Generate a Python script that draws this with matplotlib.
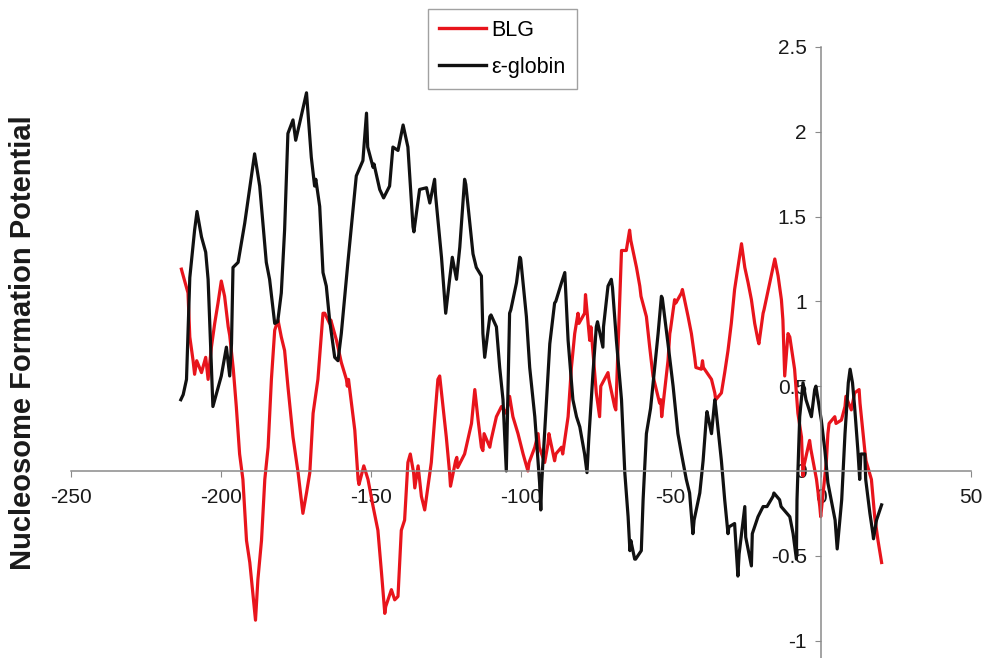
import matplotlib
matplotlib.use("Agg")
import matplotlib.pyplot as plt
import numpy as np

plt.rcParams['font.family'] = ['Liberation Sans', 'DejaVu Sans']
plt.rcParams['axes.unicode_minus'] = False

# BLG (red) trace
blg_x = [-213.1, -212.8, -210.9, -210.3, -209.2, -208.7, -208.0, -206.4, -205.0, -204.2,
         -203.1, -202.0, -200.9, -199.8, -198.7, -197.5, -197.0, -195.8, -194.8, -193.7,
         -192.6, -191.4, -190.3, -189.2, -188.4, -187.6, -186.4, -185.3, -184.2, -183.1,
         -182.0, -180.9, -179.8, -178.7, -177.6, -175.9, -174.2, -172.6, -171.4, -170.3,
         -169.2, -167.6, -165.9, -165.3, -163.7, -163.3, -161.4, -159.8, -158.1, -157.8,
         -157.4, -155.3, -154.2, -153.9, -152.3, -150.9, -149.2, -147.6, -146.4, -145.3,
         -145.0, -143.1, -142.0, -140.9, -139.8, -138.7, -137.6, -136.8, -135.7, -135.3,
         -134.2, -133.1, -132.0, -130.9, -129.8, -128.7, -127.6, -127.0, -125.9, -124.8,
         -123.7, -123.4, -121.7, -121.3, -121.0, -118.7, -116.4, -115.3, -114.2, -113.1,
         -112.6, -112.2, -110.3, -109.9, -108.1, -106.4, -104.8, -103.7, -102.6, -100.9,
         -99.2, -97.6, -97.2, -95.3, -94.2, -93.8, -92.0, -90.9, -90.6, -88.7,
         -88.3, -86.4, -86.0, -84.2, -83.1, -82.0, -80.9, -80.6, -78.7, -78.4,
         -77.0, -76.6, -74.8, -73.7, -73.3, -70.9, -70.6, -68.7, -68.3, -67.6,
         -67.0, -66.4, -64.8, -63.7, -63.3, -61.4, -60.3, -59.9, -58.1, -57.0,
         -55.9, -54.8, -53.7, -53.3, -53.0, -50.9, -50.3, -50.1, -48.7, -48.3,
         -46.4, -46.1, -44.2, -43.1, -42.0, -41.6, -39.8, -39.4, -39.1, -36.4,
         -35.3, -35.0, -33.1, -32.0, -30.9, -29.8, -28.7, -27.6, -26.4, -25.3,
         -24.2, -23.1, -22.0, -20.9, -20.6, -19.2, -18.9, -17.0, -15.3, -14.2,
         -13.1, -12.6, -12.0, -10.9, -10.3, -8.7, -7.6, -6.4, -5.9, -5.6,
         -3.7, -3.3, -1.4, -0.3, 0.0, 1.9, 2.4, 2.8, 4.7, 5.1,
         6.9, 8.1, 8.4, 10.2, 11.3, 12.8, 13.1, 14.7, 15.1, 16.9,
         18.0, 19.1, 20.3]
blg_y = [1.19, 1.17, 1.05, 0.79, 0.65, 0.57, 0.65, 0.58, 0.67, 0.54,
         0.73, 0.87, 0.99, 1.12, 1.03, 0.85, 0.80, 0.60, 0.38, 0.10,
         -0.05, -0.41, -0.54, -0.74, -0.88, -0.64, -0.41, -0.05, 0.14, 0.54,
         0.83, 0.89, 0.79, 0.71, 0.50, 0.20, -0.01, -0.25, -0.13, -0.01,
         0.34, 0.54, 0.93, 0.93, 0.87, 0.89, 0.77, 0.64, 0.54, 0.50,
         0.54, 0.24, -0.05, -0.08, 0.03, -0.05, -0.21, -0.35, -0.60, -0.84,
         -0.80, -0.70, -0.76, -0.74, -0.35, -0.29, 0.05, 0.10, -0.01, -0.10,
         0.03, -0.15, -0.23, -0.09, 0.05, 0.30, 0.54, 0.56, 0.38, 0.20,
         -0.01, -0.09, 0.06, 0.08, 0.02, 0.10, 0.28, 0.48, 0.30, 0.14,
         0.12, 0.22, 0.14, 0.18, 0.32, 0.38, 0.34, 0.44, 0.32, 0.22,
         0.10, 0.00, 0.05, 0.14, 0.22, 0.14, 0.05, 0.16, 0.22, 0.06,
         0.10, 0.14, 0.10, 0.32, 0.61, 0.81, 0.93, 0.87, 0.93, 1.04,
         0.77, 0.85, 0.46, 0.32, 0.50, 0.58, 0.54, 0.38, 0.36, 0.71,
         1.01, 1.30, 1.30, 1.42, 1.36, 1.20, 1.09, 1.03, 0.91, 0.73,
         0.56, 0.48, 0.40, 0.42, 0.32, 0.65, 0.81, 0.83, 1.01, 0.99,
         1.05, 1.07, 0.91, 0.81, 0.67, 0.61, 0.60, 0.65, 0.61, 0.54,
         0.46, 0.42, 0.46, 0.58, 0.71, 0.87, 1.07, 1.20, 1.34, 1.20,
         1.11, 1.01, 0.87, 0.77, 0.75, 0.93, 0.95, 1.11, 1.25, 1.15,
         1.01, 0.89, 0.56, 0.81, 0.79, 0.60, 0.34, 0.20, -0.03, 0.03,
         0.18, 0.13, -0.05, -0.21, -0.27, 0.06, 0.22, 0.28, 0.32, 0.28,
         0.30, 0.38, 0.44, 0.36, 0.46, 0.48, 0.40, 0.12, 0.06, -0.05,
         -0.27, -0.41, -0.54]

# epsilon-globin (black) trace
eps_x = [-213.3, -212.5, -211.4, -210.3, -208.7, -207.9, -206.4, -205.0, -204.2, -202.6,
         -201.5, -199.8, -198.1, -197.0, -196.4, -195.9, -194.2, -192.0, -188.7, -187.0,
         -184.8, -183.7, -182.0, -181.0, -179.8, -178.7, -177.6, -175.9, -175.0, -173.7,
         -171.4, -170.9, -169.8, -168.7, -168.3, -167.0, -165.9, -164.8, -163.7, -162.0,
         -160.9, -159.8, -157.6, -154.8, -152.6, -151.4, -151.0, -149.2, -148.9, -147.0,
         -145.7, -143.7, -142.6, -140.9, -139.2, -137.6, -135.9, -135.6, -133.7, -131.4,
         -130.3, -128.7, -128.4, -126.4, -125.0, -123.7, -122.8, -121.4, -120.3, -118.7,
         -118.3, -115.9, -114.8, -113.1, -112.6, -112.0, -110.3, -109.9, -108.1, -107.0,
         -105.9, -104.8, -103.7, -103.3, -101.4, -100.3, -100.0, -98.1, -97.0, -95.3,
         -93.7, -93.3, -93.0, -91.4, -90.3, -88.7, -88.3, -86.4, -85.3, -84.2,
         -82.6, -81.4, -80.3, -78.7, -77.9, -77.3, -75.9, -74.8, -74.4, -72.6,
         -72.4, -70.9, -69.8, -69.4, -68.1, -66.4, -65.3, -64.2, -63.6, -63.3,
         -62.0, -61.7, -59.8, -59.2, -58.1, -57.0, -56.7, -54.2, -53.1, -52.8,
         -50.9, -49.2, -47.6, -46.4, -44.8, -43.7, -42.6, -42.2, -40.3, -39.2,
         -38.1, -37.9, -36.4, -35.3, -35.0, -33.1, -32.0, -30.9, -30.6, -28.7,
         -27.6, -27.2, -25.3, -25.0, -23.1, -22.8, -20.9, -19.2, -17.9, -15.9,
         -15.6, -13.7, -13.2, -10.3, -9.2, -8.1, -7.9, -7.0, -5.9, -5.3,
         -4.9, -3.1, -2.0, -1.6, 0.2, 1.4, 2.4, 3.6, 4.8, 5.5,
         7.0, 8.1, 9.2, 9.8, 10.6, 11.3, 12.4, 13.0, 13.4, 14.7,
         15.0, 16.4, 17.4, 17.6, 18.6, 20.3]
eps_y = [0.42, 0.45, 0.54, 1.14, 1.42, 1.53, 1.38, 1.29, 1.13, 0.38,
         0.45, 0.56, 0.73, 0.56, 0.75, 1.20, 1.23, 1.46, 1.87, 1.68,
         1.23, 1.13, 0.87, 0.88, 1.05, 1.42, 1.99, 2.07, 1.95, 2.05,
         2.23, 2.11, 1.85, 1.68, 1.72, 1.56, 1.17, 1.09, 0.89, 0.67,
         0.65, 0.81, 1.23, 1.74, 1.83, 2.11, 1.91, 1.79, 1.81, 1.66,
         1.61, 1.68, 1.91, 1.89, 2.04, 1.91, 1.44, 1.41, 1.66, 1.67,
         1.58, 1.72, 1.63, 1.26, 0.93, 1.13, 1.26, 1.13, 1.32, 1.72,
         1.69, 1.28, 1.20, 1.15, 0.81, 0.67, 0.91, 0.92, 0.85, 0.61,
         0.42, 0.00, 0.93, 0.95, 1.11, 1.26, 1.25, 0.91, 0.61, 0.32,
         -0.07, -0.23, -0.07, 0.42, 0.75, 0.99, 1.00, 1.11, 1.17, 0.77,
         0.42, 0.32, 0.26, 0.10, -0.01, 0.19, 0.58, 0.85, 0.88, 0.73,
         0.85, 1.09, 1.13, 1.08, 0.77, 0.42, -0.01, -0.27, -0.47, -0.41,
         -0.52, -0.52, -0.47, -0.17, 0.22, 0.34, 0.37, 0.81, 1.03, 1.02,
         0.75, 0.50, 0.22, 0.10, -0.05, -0.13, -0.37, -0.29, -0.13, 0.06,
         0.32, 0.35, 0.22, 0.42, 0.38, 0.06, -0.17, -0.37, -0.33, -0.31,
         -0.62, -0.49, -0.21, -0.39, -0.56, -0.37, -0.27, -0.21, -0.21, -0.15,
         -0.13, -0.17, -0.21, -0.27, -0.37, -0.52, -0.17, 0.32, 0.52, 0.46,
         0.42, 0.32, 0.48, 0.50, 0.30, 0.12, -0.07, -0.18, -0.29, -0.46,
         -0.17, 0.22, 0.52, 0.60, 0.52, 0.38, 0.12, -0.05, 0.10, 0.10,
         -0.05, -0.25, -0.37, -0.40, -0.29, -0.20]

x_ticks = [-250, -200, -150, -100, -50, 0, 50]
y_ticks = [-1, -0.5, 0, 0.5, 1, 1.5, 2, 2.5]
y_tick_labels = ["-1", "-0.5", "0", "0.5", "1", "1.5", "2", "2.5"]

W, H = 987, 658
fig = plt.figure(figsize=(W / 100, H / 100), dpi=100)
ax = fig.add_axes([70.7 / W, 0.0, 900 / W, (H - 47) / H])
ax.set_xlim(-250, 50)
ax.set_ylim(-1.103, 2.5)

ax.plot(blg_x, blg_y, color='#e8141c', lw=2.3, label='BLG', solid_joinstyle='round')
ax.plot(eps_x, eps_y, color='#111111', lw=2.3, label='ε-globin', solid_joinstyle='round')

for s in ['top', 'right']:
    ax.spines[s].set_visible(False)
ax.spines['left'].set_position(('data', 0))
ax.spines['bottom'].set_position(('data', 0))
for s in ['left', 'bottom']:
    ax.spines[s].set_color('#8a8a8a')
    ax.spines[s].set_linewidth(1.1)

ax.set_xticks(x_ticks)
ax.set_xticklabels([str(t) for t in x_ticks])
ax.set_yticks(y_ticks)
ax.set_yticklabels(y_tick_labels)
ax.tick_params(axis='both', direction='out', length=4, color='#8a8a8a',
               labelsize=15, labelcolor='#1a1a1a')
ax.tick_params(axis='x', pad=8)
ax.tick_params(axis='y', pad=6)
ax.patch.set_visible(False)

fig.text(23 / W, 1 - 343 / H, 'Nucleosome Formation Potential', rotation=90,
         fontsize=21, fontweight='bold', ha='center', va='center', color='#1a1a1a')

leg = ax.legend(loc='upper left', bbox_to_anchor=(428 / W, 1 - 9 / H),
                bbox_transform=fig.transFigure, fontsize=15.5, frameon=True,
                fancybox=False, handlelength=2.2, handletextpad=0.25,
                labelspacing=0.75, borderpad=0.5, borderaxespad=0)
leg.get_frame().set_edgecolor('#8a8a8a')
leg.get_frame().set_linewidth(1.0)
for line in leg.get_lines():
    line.set_linewidth(2.4)

fig.savefig('out.png', dpi=100)
